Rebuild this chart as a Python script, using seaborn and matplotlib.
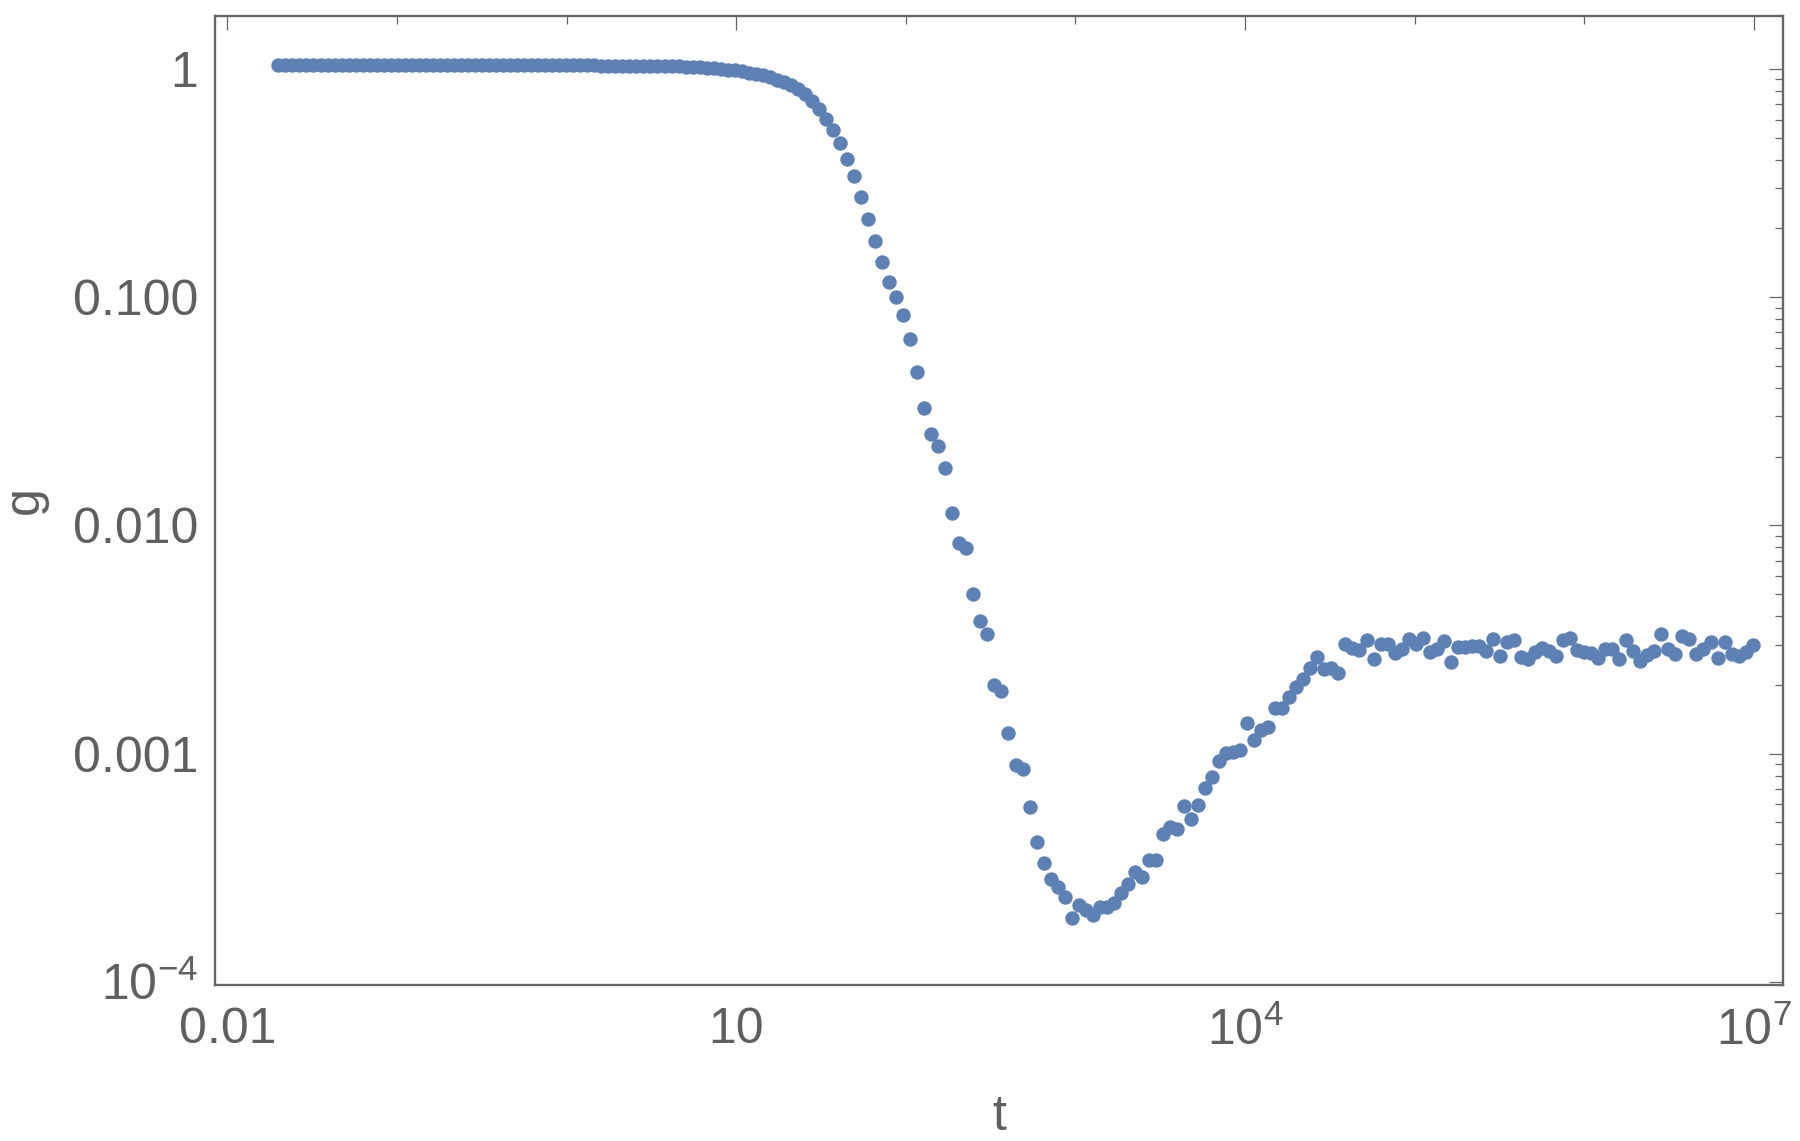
import numpy as np
import pandas as pd
import matplotlib
matplotlib.use("Agg")
import matplotlib.pyplot as plt
import seaborn as sns
from matplotlib.ticker import FixedLocator, FixedFormatter, NullFormatter

# ---- data ----
t_start = 0.02          # first sample time
t_ratio = 1.1           # constant ratio between successive sample times
n_points = 211

g_flat = [1.04] * 44
g_knee = [1.035, 1.035, 1.034, 1.034, 1.033, 1.033, 1.032, 1.032, 1.031, 1.031, 1.030, 1.030,
          1.028, 1.026, 1.023, 1.020, 1.016, 1.011, 1.005, 0.999, 0.992, 0.984, 0.975, 0.964,
          0.951, 0.936, 0.918, 0.898, 0.875, 0.849, 0.818, 0.778, 0.725]
g_fall = [0.668, 0.603, 0.538, 0.472, 0.402, 0.338, 0.274, 0.219, 0.176, 0.142, 0.117,
          0.0998, 0.0832, 0.0653, 0.0468, 0.0326, 0.0251, 0.0222, 0.0178, 0.0113, 0.00834,
          0.00793, 0.00500, 0.00379, 0.00333, 0.00200, 0.00188, 0.00123, 0.000891, 0.000853,
          0.000581, 0.000408, 0.000330, 0.000282, 0.000259, 0.000236, 0.000190]
g_rise = [0.000217, 0.000206, 0.000196, 0.000212, 0.000212, 0.000221, 0.000244, 0.000268,
          0.000303, 0.000288, 0.000341, 0.000341, 0.000444, 0.000478, 0.000465, 0.000589,
          0.000515, 0.000594, 0.000703, 0.000786, 0.000930, 0.001002, 0.00102, 0.00104,
          0.00136, 0.00115, 0.00127, 0.00131, 0.00159, 0.00159, 0.00177, 0.00195, 0.00213,
          0.00236, 0.00265, 0.00234, 0.00236, 0.00226]
g_plateau = [0.00301, 0.00289, 0.00284, 0.00314, 0.00259, 0.00301, 0.00301, 0.00277, 0.00287,
             0.00318, 0.00303, 0.00321, 0.00278, 0.00286, 0.00312, 0.00252, 0.00293, 0.00293,
             0.00297, 0.00297, 0.00282, 0.00316, 0.00267, 0.00308, 0.00313, 0.00265, 0.00260,
             0.00279, 0.00290, 0.00281, 0.00267, 0.00313, 0.00321, 0.00284, 0.00278, 0.00275,
             0.00262, 0.00287, 0.00286, 0.00260, 0.00314, 0.00281, 0.00254, 0.00269, 0.00280,
             0.00333, 0.00287, 0.00273, 0.00328, 0.00319, 0.00273, 0.00286, 0.00308, 0.00263,
             0.00307, 0.00272, 0.00268, 0.00278, 0.00298]

g_values = g_flat + g_knee + g_fall + g_rise + g_plateau
t_values = np.geomspace(t_start, t_start * t_ratio ** (n_points - 1), n_points)

x_major = [1e-2, 1e1, 1e4, 1e7]
x_major_labels = ["0.01", "10", "$10^{4}$", "$10^{7}$"]
x_minor = [1e-1, 1e0, 1e2, 1e3, 1e5, 1e6]
y_major = [1e-4, 1e-3, 1e-2, 1e-1, 1e0]
y_major_labels = ["$10^{-4}$", "0.001", "0.010", "0.100", "1"]
y_minor = [m * 10.0 ** e for e in range(-4, 0) for m in range(2, 10)]

df = pd.DataFrame({"t": t_values, "g": g_values})

# ---- style ----
sns.set_style("white")
plt.rcParams["font.family"] = ["Liberation Sans", "DejaVu Sans"]
plt.rcParams["mathtext.fontset"] = "custom"
plt.rcParams["mathtext.rm"] = "Liberation Sans"
plt.rcParams["mathtext.it"] = "Liberation Sans:italic"
plt.rcParams["mathtext.bf"] = "Liberation Sans:bold"

gray = "#666666"
text_gray = "#5f5f5f"
dot = "#5E81B5"

fig = plt.figure(figsize=(18, 11.41), dpi=100)
ax = fig.add_axes([0.1193, 0.1367, 0.8712, 0.8493])

sns.scatterplot(data=df, x="t", y="g", ax=ax, color=dot, s=108, linewidth=0, legend=False)

ax.set_xscale("log")
ax.set_yscale("log")
ax.set_xlim(10 ** -2.0743, 10 ** 7.172)
ax.set_ylim(10 ** -4.0145, 10 ** 0.2318)

ax.xaxis.set_major_locator(FixedLocator(x_major))
ax.xaxis.set_major_formatter(FixedFormatter(x_major_labels))
ax.xaxis.set_minor_locator(FixedLocator(x_minor))
ax.xaxis.set_minor_formatter(NullFormatter())
ax.yaxis.set_major_locator(FixedLocator(y_major))
ax.yaxis.set_major_formatter(FixedFormatter(y_major_labels))
ax.yaxis.set_minor_locator(FixedLocator(y_minor))
ax.yaxis.set_minor_formatter(NullFormatter())

ax.tick_params(which="both", direction="in", top=True, right=True, color=gray,
               labelcolor=text_gray, labelsize=36)
ax.tick_params(which="major", length=10, width=0.9)
ax.tick_params(which="minor", length=5.5, width=0.9)
ax.tick_params(axis="x", which="major", pad=16)
ax.tick_params(axis="y", which="major", pad=12)

for sp in ax.spines.values():
    sp.set_color(gray)
    sp.set_linewidth(1.7)

ax.set_xlabel("t", fontsize=36, color=text_gray, labelpad=28)
ax.set_ylabel("g", fontsize=36, color=text_gray, labelpad=18)

fig.savefig("out.png", dpi=100)
